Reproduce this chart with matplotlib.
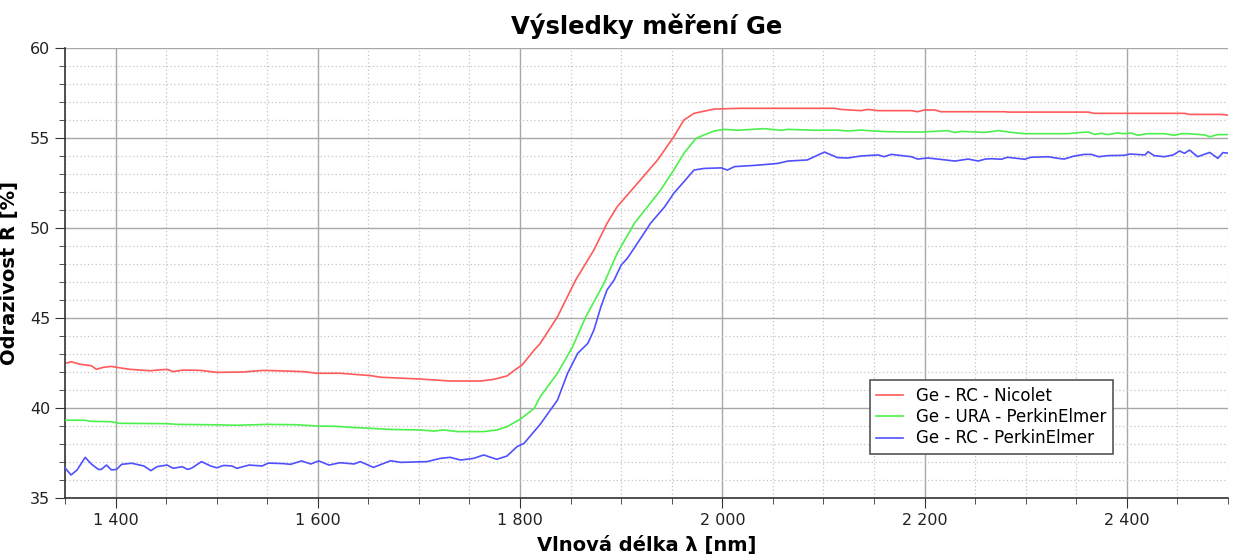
import matplotlib
matplotlib.use('Agg')
import matplotlib.pyplot as plt
from matplotlib.ticker import MultipleLocator, FuncFormatter

# Ge - RC - Nicolet
nm_red = [1352, 1356, 1365, 1376, 1381, 1388, 1396, 1401, 1414, 1434, 1451, 1457, 1467, 1484,
          1500, 1526, 1546, 1566, 1586, 1599, 1622, 1652, 1662, 1701, 1731, 1761, 1774, 1787,
          1797, 1802, 1814, 1820, 1837, 1855, 1873, 1886, 1896, 1906, 1919, 1936, 1952, 1962,
          1972, 1992, 2018, 2111, 2117, 2137, 2144, 2154, 2187, 2193, 2200, 2210, 2216, 2279,
          2283, 2362, 2367, 2457, 2462, 2494, 2501]
r_red = [42.50, 42.57, 42.43, 42.35, 42.15, 42.26, 42.31, 42.26, 42.15, 42.07, 42.15, 42.02,
         42.11, 42.09, 41.98, 42.00, 42.09, 42.06, 42.02, 41.93, 41.93, 41.80, 41.71, 41.61,
         41.50, 41.50, 41.59, 41.78, 42.20, 42.39, 43.22, 43.59, 45.07, 47.11, 48.78, 50.26,
         51.18, 51.83, 52.67, 53.78, 55.07, 56.00, 56.37, 56.61, 56.65, 56.65, 56.59, 56.52,
         56.59, 56.52, 56.52, 56.46, 56.56, 56.56, 56.46, 56.46, 56.44, 56.44, 56.37, 56.37,
         56.31, 56.31, 56.26]

# Ge - URA - PerkinElmer
nm_green = [1350, 1370, 1375, 1396, 1403, 1451, 1461, 1494, 1520, 1550, 1579, 1599, 1619,
            1632, 1652, 1672, 1701, 1715, 1724, 1738, 1764, 1777, 1787, 1800, 1814, 1820,
            1837, 1852, 1865, 1883, 1896, 1913, 1926, 1939, 1952, 1962, 1974, 1982, 1992,
            2002, 2015, 2041, 2058, 2065, 2091, 2114, 2124, 2137, 2150, 2164, 2196, 2223,
            2230, 2236, 2259, 2273, 2286, 2299, 2342, 2352, 2362, 2368, 2375, 2381, 2391,
            2397, 2404, 2411, 2420, 2437, 2447, 2454, 2461, 2477, 2482, 2490, 2501]
r_green = [39.32, 39.32, 39.26, 39.24, 39.15, 39.13, 39.09, 39.07, 39.04, 39.09, 39.07, 39.00,
           38.98, 38.93, 38.87, 38.81, 38.78, 38.72, 38.78, 38.69, 38.69, 38.78, 38.96, 39.37,
           39.98, 40.63, 41.93, 43.41, 45.07, 46.93, 48.59, 50.26, 51.18, 52.11, 53.22, 54.15,
           54.98, 55.17, 55.39, 55.48, 55.43, 55.52, 55.43, 55.48, 55.43, 55.44, 55.39, 55.44,
           55.39, 55.35, 55.33, 55.41, 55.30, 55.37, 55.31, 55.41, 55.31, 55.24, 55.24, 55.30,
           55.33, 55.20, 55.26, 55.19, 55.28, 55.24, 55.28, 55.15, 55.24, 55.24, 55.15, 55.24,
           55.24, 55.17, 55.07, 55.19, 55.19]

# Ge - RC - PerkinElmer
nm_blue = [1350, 1356, 1362, 1370, 1376, 1383, 1386, 1391, 1396, 1401, 1406, 1416, 1428,
           1435, 1441, 1451, 1457, 1466, 1471, 1475, 1485, 1494, 1500, 1507, 1515, 1520,
           1532, 1545, 1551, 1566, 1573, 1584, 1593, 1601, 1611, 1622, 1636, 1642, 1655,
           1672, 1682, 1708, 1721, 1731, 1741, 1754, 1764, 1777, 1787, 1797, 1804, 1820,
           1837, 1847, 1857, 1867, 1873, 1880, 1886, 1893, 1900, 1906, 1916, 1929, 1943,
           1952, 1962, 1972, 1982, 1999, 2005, 2012, 2032, 2041, 2055, 2065, 2084, 2101,
           2114, 2124, 2137, 2154, 2160, 2167, 2187, 2193, 2203, 2213, 2230, 2243, 2253,
           2260, 2266, 2276, 2282, 2299, 2305, 2322, 2332, 2338, 2348, 2358, 2365, 2372,
           2381, 2398, 2403, 2418, 2421, 2427, 2437, 2446, 2452, 2457, 2462, 2470, 2482,
           2490, 2495, 2501]
r_blue = [36.68, 36.28, 36.56, 37.26, 36.89, 36.59, 36.59, 36.83, 36.56, 36.59, 36.87, 36.93,
          36.78, 36.52, 36.74, 36.83, 36.65, 36.74, 36.59, 36.65, 37.02, 36.78, 36.68, 36.81,
          36.78, 36.65, 36.83, 36.78, 36.94, 36.91, 36.87, 37.06, 36.89, 37.06, 36.83, 36.96,
          36.89, 37.02, 36.70, 37.07, 36.98, 37.02, 37.20, 37.26, 37.11, 37.20, 37.39, 37.15,
          37.33, 37.85, 38.04, 39.10, 40.44, 41.93, 43.04, 43.59, 44.33, 45.63, 46.56, 47.11,
          47.94, 48.31, 49.15, 50.26, 51.18, 51.93, 52.57, 53.22, 53.31, 53.34, 53.22, 53.41,
          53.48, 53.52, 53.59, 53.72, 53.78, 54.22, 53.91, 53.89, 54.00, 54.06, 53.96, 54.09,
          53.96, 53.83, 53.89, 53.83, 53.72, 53.83, 53.72, 53.83, 53.85, 53.82, 53.93, 53.82,
          53.93, 53.96, 53.87, 53.83, 54.00, 54.09, 54.09, 53.96, 54.02, 54.04, 54.11, 54.06,
          54.24, 54.02, 53.96, 54.06, 54.28, 54.15, 54.33, 53.96, 54.20, 53.87, 54.19, 54.15]

labels = ['Ge - RC - Nicolet', 'Ge - URA - PerkinElmer', 'Ge - RC - PerkinElmer']
colors = ['#ff5a5a', '#4cf04c', '#5050ff']

fig = plt.figure(figsize=(12.4, 5.55), dpi=100)
ax = fig.add_axes([0.0524, 0.1027, 0.9379, 0.8108])

ax.plot(nm_red, r_red, color=colors[0], lw=1.2, label=labels[0], zorder=3)
ax.plot(nm_green, r_green, color=colors[1], lw=1.2, label=labels[1], zorder=3)
ax.plot(nm_blue, r_blue, color=colors[2], lw=1.2, label=labels[2], zorder=3)

ax.set_xlim(1350, 2500)
ax.set_ylim(35, 60)

ax.xaxis.set_major_locator(MultipleLocator(200))
ax.xaxis.set_minor_locator(MultipleLocator(50))
ax.yaxis.set_major_locator(MultipleLocator(5))
ax.yaxis.set_minor_locator(MultipleLocator(1))
ax.xaxis.set_major_formatter(FuncFormatter(lambda v, p: '{:,.0f}'.format(v).replace(',', ' ')))

ax.grid(which='major', color='#a8a8a8', lw=1, ls='-')
ax.grid(which='minor', color='#c4c4c4', lw=0.9, ls=(0, (1, 2)))
ax.set_axisbelow(True)

for s in ['top', 'right']:
    ax.spines[s].set_visible(False)
for s in ['left', 'bottom']:
    ax.spines[s].set_color('#333333')
    ax.spines[s].set_linewidth(1.2)

ax.tick_params(which='major', length=7, color='#333333', labelsize=11.5, labelcolor='#222222')
ax.tick_params(which='minor', length=4, color='#333333')

ax.set_title('Výsledky měření Ge', fontsize=17.5, fontweight='bold', pad=10)
ax.set_xlabel('Vlnová délka λ [nm]', fontsize=14, fontweight='bold', labelpad=6)
ax.set_ylabel('Odrazivost R [%]', fontsize=14, fontweight='bold', labelpad=8)

leg = ax.legend(loc='upper left', bbox_to_anchor=(0.692, 0.262), borderaxespad=0,
                fontsize=12, handlelength=1.6, fancybox=False, framealpha=1,
                edgecolor='#555555', labelspacing=0.2, borderpad=0.4)
leg.get_frame().set_linewidth(1.2)

fig.savefig('out.png', dpi=100)
